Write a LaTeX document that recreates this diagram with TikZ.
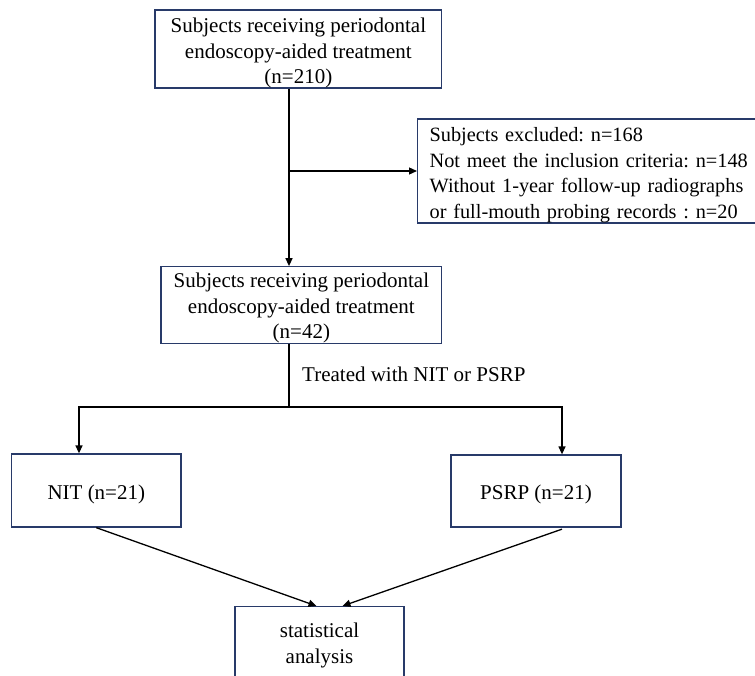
\documentclass[tikz,border=0pt]{standalone}
\usepackage{fontspec}
\setmainfont{Liberation Serif}
\usetikzlibrary{arrows.meta,calc}
\definecolor{boxblue}{RGB}{40,58,105}
\newcommand{\tstrut}{\rule{0pt}{22.5pt}}
\begin{document}
\begin{tikzpicture}[x=1pt,y=-1pt,
  txt/.style={font=\fontsize{21}{25.5}\selectfont\frenchspacing},
  box/.style={txt,draw=boxblue,line width=1.3pt,rectangle,inner sep=0pt,align=center},
  lbl/.style={txt,inner sep=0pt},
  conn/.style={line width=1.3pt,draw=black},
  arr/.style={conn,-{Triangle[length=8pt,width=7pt]}}]
\useasboundingbox (0,0) rectangle (755,675);
\clip (0,0) rectangle (755,675);
% nodes
\node[box,minimum width=286.7pt,minimum height=76.6pt] (top) at (298.4,49)
  {\tstrut Subjects receiving periodontal\\endoscopy-aided treatment\\(n=210)};
\node[box,anchor=west,minimum height=104pt,text width=345pt,align=left,inner xsep=12pt,
  font=\fontsize{20.3}{25.4}\selectfont\frenchspacing] (excl) at (417,171)
  {\tstrut Subjects excluded: n=168\\Not meet the inclusion criteria: n=148\\Without 1-year follow-up radiographs\\or full-mouth probing records : n=20};
\node[box,minimum width=280.7pt,minimum height=71.7pt] (mid) at (301.4,305)
  {\rule{0pt}{21pt}Subjects receiving periodontal\\endoscopy-aided treatment\\(n=42)};
\node[lbl,anchor=west] (treat) at (302,374.5) {Treated with NIT or PSRP};
\node[box,minimum width=169.3pt,minimum height=73pt,text height=22.5pt,text depth=4.6pt] (nit) at (96.3,490.5) {NIT (n=21)};
\node[box,minimum width=170pt,minimum height=72pt,text height=22.5pt,text depth=4.6pt] (psrp) at (536,491) {PSRP (n=21)};
\node[box,anchor=north,minimum width=169pt,minimum height=78pt] (stat) at (319.5,606)
  {statistical\\analysis};
% junctions
\coordinate (j1) at (289,171);
\coordinate (j2) at (289,407);
\coordinate (jl) at (79,407);
\coordinate (jr) at (562,407);
% connectors
\draw[arr] (top.south -| j1) -- (mid.north -| j1);
\draw[arr] (j1) -- (excl.west |- j1);
\draw[conn] (mid.south -| j2) -- (j2);
\draw[arr] (j2) -| (jl |- nit.north);
\draw[arr] (j2) -| (jr |- psrp.north);
\draw[arr] (nit.south) -- ($(stat.north)+(-3,0)$);
\draw[arr] ($(jr |- psrp.south)+(0,1.5)$) -- ($(stat.north)+(23,0)$);
\end{tikzpicture}
\end{document}
